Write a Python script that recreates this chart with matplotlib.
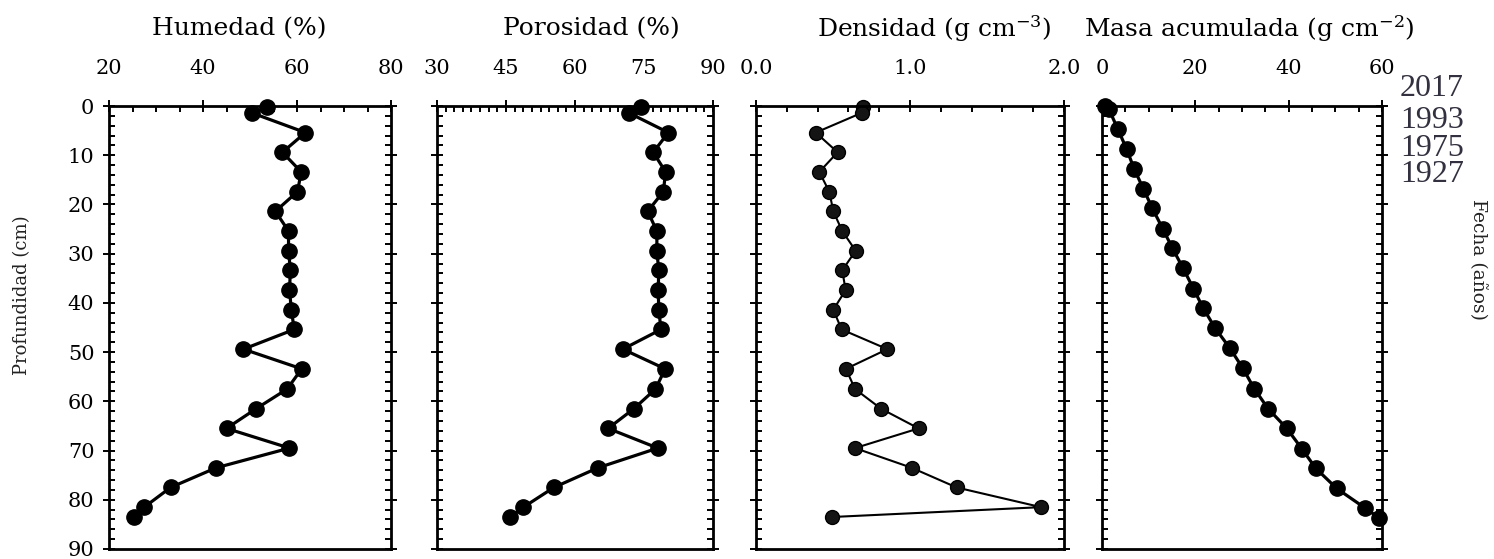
import matplotlib
matplotlib.use('Agg')
import matplotlib.pyplot as plt
from matplotlib.ticker import MultipleLocator, FormatStrFormatter

plt.rcParams['font.family'] = 'DejaVu Serif'
plt.rcParams['mathtext.fontset'] = 'dejavuserif'

# profundidad (cm) de cada muestra
prof = [0.3, 1.4, 5.4, 9.4, 13.4, 17.4, 21.4, 25.4, 29.4, 33.4, 37.4, 41.4,
        45.4, 49.4, 53.4, 57.5, 61.5, 65.5, 69.5, 73.5, 77.5, 81.5, 83.5]
prof_masa = [0.0, 0.7, 4.7, 8.8, 12.8, 16.8, 20.8, 24.9, 28.9, 33.0, 37.1, 41.1,
             45.2, 49.2, 53.3, 57.4, 61.5, 65.5, 69.6, 73.6, 77.7, 81.7, 83.7]

humedad = [53.6, 50.4, 61.8, 56.9, 60.9, 60.1, 55.4, 58.2, 58.2, 58.6, 58.4, 58.8,
           59.4, 48.6, 61.0, 57.9, 51.3, 45.0, 58.4, 42.8, 33.1, 27.5, 25.3]
porosidad = [74.3, 71.7, 80.3, 77.0, 79.7, 79.2, 75.8, 77.8, 77.8, 78.2, 78.1, 78.2,
             78.7, 70.4, 79.6, 77.5, 72.8, 67.2, 78.0, 65.0, 55.4, 48.8, 45.9]
densidad = [0.697, 0.686, 0.388, 0.530, 0.411, 0.476, 0.502, 0.560, 0.647, 0.560,
            0.582, 0.502, 0.556, 0.853, 0.584, 0.643, 0.812, 1.056, 0.643, 1.011,
            1.303, 1.851, 0.494]
masa = [0.6, 1.5, 3.4, 5.3, 6.9, 8.85, 10.8, 13.0, 15.1, 17.4, 19.6, 21.7,
        24.3, 27.4, 30.2, 32.6, 35.6, 39.6, 42.8, 45.8, 50.3, 56.4, 59.4]

fechas = ['2017', '1993', '1975', '1927']

fig = plt.figure(figsize=(14.94, 5.59), dpi=100)

H = 559.0
W = 1494.0
bot = 1 - 549 / H
alto = 443 / H

ax1 = fig.add_axes([109 / W, bot, 282 / W, alto])
ax2 = fig.add_axes([437 / W, bot, 276 / W, alto])
ax3 = fig.add_axes([756 / W, bot, 308 / W, alto])
ax4 = fig.add_axes([1102 / W, bot, 280 / W, alto])


def estilo(ax, x0, x1, mayor, menor):
    ax.set_xlim(x0, x1)
    ax.set_ylim(90, 0)
    ax.xaxis.set_major_locator(MultipleLocator(mayor))
    ax.xaxis.set_minor_locator(MultipleLocator(menor))
    ax.yaxis.set_major_locator(MultipleLocator(10))
    ax.yaxis.set_minor_locator(MultipleLocator(2))
    ax.tick_params(which='major', direction='inout', length=9, width=1.4,
                   top=True, bottom=False, left=True, right=True,
                   labeltop=True, labelbottom=False, labelleft=False,
                   labelsize=15, pad=16)
    ax.tick_params(which='minor', direction='in', length=4.5, width=1.4,
                   top=True, bottom=False, left=True, right=True)
    ax.tick_params(axis='y', which='major', pad=6)
    for s in ax.spines.values():
        s.set_linewidth(2)


estilo(ax1, 20, 80, 20, 5)
ax1.tick_params(axis='y', labelleft=True)
ax1.plot(humedad, prof, '-o', color='black', lw=2.3, ms=11, clip_on=False)
ax1.text(0.461, 1.175, 'Humedad (%)', transform=ax1.transAxes,
         ha='center', va='center', fontsize=18)

estilo(ax2, 30, 90, 15, 15 / 8)
ax2.plot(porosidad, prof, '-o', color='black', lw=2.3, ms=11, clip_on=False)
ax2.text(0.558, 1.175, 'Porosidad (%)', transform=ax2.transAxes,
         ha='center', va='center', fontsize=18)

estilo(ax3, 0, 2.0, 1.0, 0.2)
ax3.xaxis.set_major_formatter(FormatStrFormatter('%.1f'))
ax3.plot(densidad, prof, '-o', color='black', mfc='#141414', mec='#000000',
         lw=1.5, ms=10, clip_on=False)
ax3.text(0.578, 1.175, r'Densidad (g cm$^{\mathregular{-3}}$)', transform=ax3.transAxes,
         ha='center', va='center', fontsize=18)

estilo(ax4, 0, 60, 20, 5)
ax4.plot(masa, prof_masa, '-o', color='black', lw=2.3, ms=11, clip_on=False)
ax4.text(0.525, 1.175, r'Masa acumulada (g cm$^{\mathregular{-2}}$)', transform=ax4.transAxes,
         ha='center', va='center', fontsize=18)

fig.text(22 / W, 1 - 295 / H, 'Profundidad (cm)', rotation=90,
         ha='center', va='center', fontsize=13, color='#222222')
fig.text(1478 / W, 1 - 260 / H, 'Fecha (años)', rotation=-90,
         ha='center', va='center', fontsize=13.5, color='#222222')

ys = [88, 120, 148, 175]
for f, yy in zip(fechas, ys):
    fig.text(1432 / W, 1 - yy / H, f, ha='center', va='center',
             family='Liberation Serif', fontsize=23, color='#33303f')

fig.savefig('out.png', dpi=100)
